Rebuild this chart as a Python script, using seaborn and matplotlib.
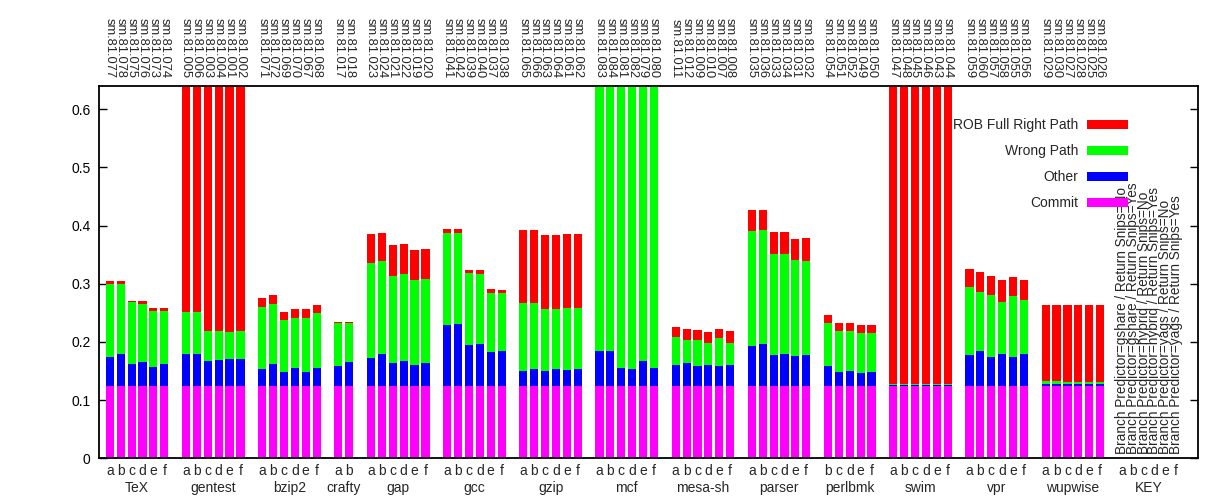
import matplotlib
matplotlib.use("Agg")
import matplotlib.pyplot as plt
import matplotlib.transforms as mtrans
from matplotlib.patches import Patch
import pandas as pd
import seaborn as sns

# ---------------- data ----------------
benchmarks = ["TeX", "gentest", "bzip2", "crafty", "gap", "gcc", "gzip", "mcf",
              "mesa-sh", "parser", "perlbmk", "swim", "vpr", "wupwise"]
configs = ["abcdef", "abcdef", "abcdef", "ab", "abcdef", "abcdef", "abcdef", "abcdef",
           "abcdef", "abcdef", "bcdef", "abcdef", "abcdef", "abcdef"]

run_ids = [
    ["077", "078", "075", "076", "073", "074"],
    ["005", "006", "003", "004", "001", "002"],
    ["071", "072", "069", "070", "067", "068"],
    ["017", "018"],
    ["023", "024", "021", "022", "019", "020"],
    ["041", "042", "039", "040", "037", "038"],
    ["065", "066", "063", "064", "061", "062"],
    ["083", "084", "081", "082", "079", "080"],
    ["011", "012", "009", "010", "007", "008"],
    ["035", "036", "033", "034", "031", "032"],
    ["054", "051", "052", "049", "050"],
    ["047", "048", "045", "046", "043", "044"],
    ["059", "060", "057", "058", "055", "056"],
    ["029", "030", "027", "028", "025", "026"],
]

commit = [
    [0.125, 0.125, 0.125, 0.125, 0.125, 0.125],
    [0.125, 0.125, 0.125, 0.125, 0.125, 0.125],
    [0.125, 0.125, 0.125, 0.125, 0.125, 0.125],
    [0.125, 0.125],
    [0.125, 0.125, 0.125, 0.125, 0.125, 0.125],
    [0.125, 0.125, 0.125, 0.125, 0.125, 0.125],
    [0.125, 0.125, 0.125, 0.125, 0.125, 0.125],
    [0.125, 0.125, 0.125, 0.125, 0.125, 0.125],
    [0.125, 0.125, 0.125, 0.125, 0.125, 0.125],
    [0.125, 0.125, 0.125, 0.125, 0.125, 0.125],
    [0.125, 0.125, 0.125, 0.125, 0.125],
    [0.124, 0.124, 0.124, 0.124, 0.124, 0.124],
    [0.125, 0.125, 0.125, 0.125, 0.125, 0.125],
    [0.125, 0.125, 0.125, 0.125, 0.125, 0.125],
]
other = [
    [0.049, 0.054, 0.037, 0.041, 0.032, 0.037],
    [0.055, 0.055, 0.043, 0.044, 0.046, 0.046],
    [0.029, 0.037, 0.023, 0.031, 0.024, 0.031],
    [0.033, 0.040],
    [0.048, 0.054, 0.039, 0.042, 0.035, 0.039],
    [0.104, 0.106, 0.070, 0.072, 0.058, 0.059],
    [0.025, 0.029, 0.025, 0.029, 0.026, 0.029],
    [0.059, 0.059, 0.030, 0.028, 0.042, 0.030],
    [0.035, 0.039, 0.033, 0.036, 0.033, 0.035],
    [0.068, 0.071, 0.053, 0.055, 0.051, 0.053],
    [0.033, 0.024, 0.025, 0.022, 0.023],
    [0.002, 0.002, 0.002, 0.002, 0.002, 0.002],
    [0.053, 0.059, 0.049, 0.054, 0.049, 0.054],
    [0.003, 0.003, 0.003, 0.003, 0.003, 0.003],
]
wrong = [
    [0.126, 0.121, 0.106, 0.099, 0.097, 0.091],
    [0.072, 0.072, 0.050, 0.049, 0.046, 0.047],
    [0.106, 0.103, 0.089, 0.086, 0.093, 0.093],
    [0.075, 0.068],
    [0.163, 0.160, 0.149, 0.150, 0.146, 0.144],
    [0.158, 0.156, 0.123, 0.120, 0.102, 0.100],
    [0.117, 0.113, 0.107, 0.103, 0.107, 0.105],
    [0.750, 0.750, 0.780, 0.780, 0.770, 0.780],
    [0.049, 0.039, 0.046, 0.037, 0.048, 0.038],
    [0.198, 0.196, 0.174, 0.172, 0.165, 0.162],
    [0.075, 0.070, 0.069, 0.069, 0.068],
    [0.002, 0.002, 0.002, 0.002, 0.002, 0.002],
    [0.117, 0.102, 0.107, 0.090, 0.105, 0.093],
    [0.005, 0.005, 0.003, 0.003, 0.003, 0.003],
]
rob = [
    [0.004, 0.005, 0.003, 0.005, 0.004, 0.005],
    [0.700, 0.700, 0.700, 0.700, 0.700, 0.700],
    [0.015, 0.016, 0.015, 0.014, 0.014, 0.015],
    [0.002, 0.002],
    [0.049, 0.049, 0.054, 0.051, 0.052, 0.052],
    [0.007, 0.007, 0.006, 0.006, 0.006, 0.006],
    [0.125, 0.126, 0.127, 0.127, 0.127, 0.126],
    [0.010, 0.010, 0.010, 0.010, 0.010, 0.010],
    [0.016, 0.019, 0.017, 0.019, 0.017, 0.020],
    [0.035, 0.035, 0.037, 0.037, 0.036, 0.038],
    [0.013, 0.013, 0.013, 0.014, 0.014],
    [0.900, 0.900, 0.900, 0.900, 0.900, 0.900],
    [0.030, 0.034, 0.032, 0.037, 0.033, 0.034],
    [0.131, 0.131, 0.132, 0.132, 0.132, 0.132],
]

key_configs = "abcdef"
key_labels = [
    "Branch Predictor=gshare / Return Snips=No",
    "Branch Predictor=gshare / Return Snips=Yes",
    "Branch Predictor=hybrid / Return Snips=No",
    "Branch Predictor=hybrid / Return Snips=Yes",
    "Branch Predictor=yags / Return Snips=No",
    "Branch Predictor=yags / Return Snips=Yes",
]

series_names = ["ROB Full Right Path", "Wrong Path", "Other", "Commit"]
series_colors = ["#ff0000", "#00ff00", "#0000ff", "#ff00ff"]

# ---------------- build table ----------------
rows = []
group_centers = []
pos = 0
for gi, bench in enumerate(benchmarks):
    start = pos
    for ci, cfg in enumerate(configs[gi]):
        c = commit[gi][ci]
        o = other[gi][ci]
        w = wrong[gi][ci]
        r = rob[gi][ci]
        rows.append(dict(pos=pos, bench=bench, cfg=cfg, run="sm.81." + run_ids[gi][ci],
                         commit_top=c, other_top=c + o, wrong_top=c + o + w,
                         rob_top=c + o + w + r))
        pos += 1
    group_centers.append(((start + pos - 1) / 2.0, bench))
    pos += 1
key_pos = list(range(pos, pos + len(key_configs)))
group_centers.append(((key_pos[0] + key_pos[-1]) / 2.0, "KEY"))
df = pd.DataFrame(rows)

# ---------------- plot ----------------
sns.set_theme(style="white")
plt.rcParams["font.family"] = ["Liberation Sans", "DejaVu Sans"]
FS = 10

fig = plt.figure(figsize=(12.27, 5.0), dpi=100)
ax = fig.add_axes([99 / 1227, 1 - 458.3 / 500, 1099 / 1227, 372.3 / 500])

for col, color in zip(["rob_top", "wrong_top", "other_top", "commit_top"], series_colors):
    sns.barplot(data=df, x="pos", y=col, native_scale=True, width=0.75,
                color=color, saturation=1, errorbar=None, linewidth=0, ax=ax)

ax.set_xlim(-1, key_pos[-1] + 2)
ax.set_ylim(0, 0.64)
ax.set_xlabel("")
ax.set_ylabel("")

# x tick labels (configs)
xt = list(df["pos"]) + key_pos
xl = list(df["cfg"]) + list(key_configs)
ax.set_xticks(xt)
ax.set_xticklabels(xl, fontsize=FS)
ax.tick_params(axis="x", length=0, pad=4)

# y ticks
yt = [0, 0.1, 0.2, 0.3, 0.4, 0.5, 0.6]
ax.set_yticks(yt)
ax.set_yticklabels(["0", "0.1", "0.2", "0.3", "0.4", "0.5", "0.6"], fontsize=FS)
ax.tick_params(axis="y", direction="in", length=6, width=1, left=True, right=True,
               pad=6, colors="black")

for sp in ax.spines.values():
    sp.set_visible(True)
    sp.set_color("black")
    sp.set_linewidth(1.3)

trans = mtrans.blended_transform_factory(ax.transData, ax.transAxes)
# group names
for cx, name in group_centers:
    ax.text(cx, -0.079, name, transform=trans, ha="center", va="center", fontsize=FS)
# run labels on top
for _, rw in df.iterrows():
    ax.text(rw["pos"], 1.021, rw["run"], transform=trans, rotation=-90,
            ha="center", va="bottom", fontsize=9.3)
# key labels
for kp, lab in zip(key_pos, key_labels):
    ax.text(kp, 0.012, lab, transform=trans, rotation=90, ha="center", va="bottom",
            fontsize=9.8)

handles = [Patch(facecolor=c, edgecolor="none") for c in series_colors]
leg = ax.legend(handles, series_names, loc="upper right",
                bbox_to_anchor=(0.936, 0.913), markerfirst=False, frameon=False,
                handlelength=2.9, handleheight=0.6, handletextpad=0.65,
                labelspacing=0.86, borderpad=0, borderaxespad=0, fontsize=FS)
leg.set_zorder(10)

fig.savefig("out.png", dpi=100)
